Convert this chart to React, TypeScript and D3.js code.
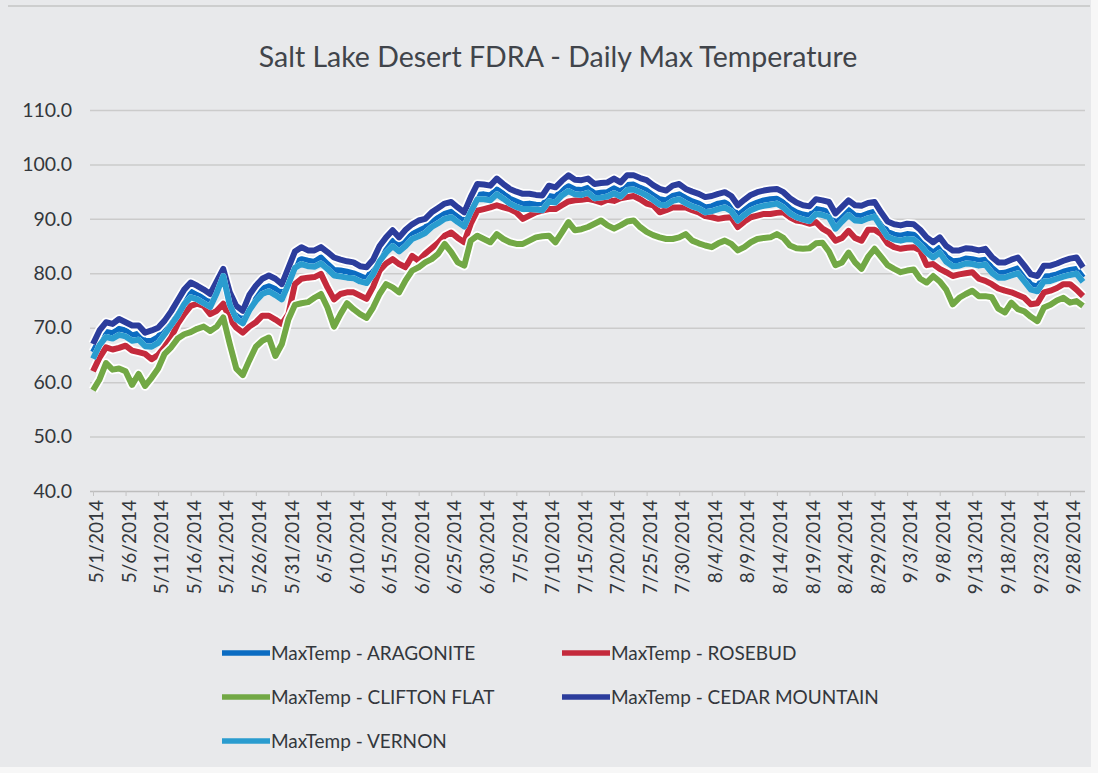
import { useRef, useEffect } from 'react';
import * as d3 from 'd3';

// daily max temperature, 5/1/2014 .. 9/30/2014 (153 days)
const aragonite = [
  65.5, 67.8, 69.2, 69.0, 69.8, 69.5, 68.6, 68.9, 67.5, 67.6,
  68.3, 69.8, 71.5, 73.2, 75.4, 76.6, 76.0, 75.6, 74.8, 77.2,
  80.0, 75.0, 72.4, 71.8, 74.2, 75.9, 77.2, 77.6, 77.1, 76.2,
  79.2, 82.0, 82.6, 82.3, 82.1, 82.9, 81.7, 80.6, 80.5, 80.3,
  80.0, 79.5, 79.0, 80.8, 83.2, 84.8, 86.0, 84.9, 86.1, 87.2,
  87.8, 88.4, 89.4, 90.2, 90.9, 91.3, 90.4, 89.5, 92.2, 94.4,
  94.5, 94.3, 95.4, 94.6, 93.7, 93.2, 92.7, 92.8, 92.6, 92.5,
  94.2, 94.0, 95.2, 96.0, 95.4, 95.3, 95.7, 94.6, 94.8, 94.9,
  95.6, 95.0, 96.2, 96.3, 95.7, 95.2, 94.3, 93.6, 93.4, 94.2,
  94.5, 93.8, 93.2, 92.8, 92.1, 92.3, 92.8, 93.0, 92.3, 90.6,
  91.6, 92.5, 93.0, 93.4, 93.6, 93.7, 93.0, 91.9, 91.2, 90.8,
  90.6, 91.8, 91.6, 91.2, 89.0, 90.4, 91.6, 90.6, 90.5, 91.0,
  91.3, 89.4, 87.6, 87.1, 86.9, 87.2, 87.1, 86.1, 84.7, 83.8,
  84.7, 83.0, 82.2, 82.3, 82.7, 82.6, 82.3, 82.5, 81.0, 80.0,
  80.1, 80.5, 80.9, 79.4, 77.9, 77.5, 79.4, 79.5, 79.8, 80.3,
  80.6, 80.8, 79.2,
];
const rosebud = [
  62.0, 64.5, 66.4, 66.0, 66.3, 66.7, 65.8, 65.5, 65.2, 64.2,
  65.0, 66.5, 68.2, 70.7, 72.5, 74.0, 74.4, 74.0, 72.5, 73.1,
  74.4, 71.6, 70.0, 69.1, 70.2, 71.0, 72.2, 72.2, 71.5, 70.7,
  72.5, 78.0, 79.0, 79.2, 79.3, 79.9, 77.4, 75.2, 76.2, 76.5,
  76.5, 75.9, 75.3, 77.5, 80.5, 81.8, 82.6, 81.7, 81.1, 83.2,
  82.3, 83.6, 84.6, 85.6, 86.9, 87.5, 86.5, 85.7, 89.1, 91.5,
  91.8, 92.1, 92.5, 92.1, 91.8, 91.2, 90.0, 90.6, 91.2, 91.5,
  91.8, 91.8, 92.5, 93.2, 93.4, 93.5, 93.7, 93.4, 93.0, 93.5,
  93.3, 93.8, 94.0, 94.2, 93.6, 92.8, 92.5, 91.2, 91.6, 92.1,
  92.1, 92.1, 91.6, 91.2, 90.5, 90.3, 90.0, 90.2, 90.3, 88.5,
  89.5, 90.3, 90.6, 90.9, 90.9, 91.1, 91.2, 90.3, 89.7, 89.5,
  89.1, 89.4, 88.2, 87.5, 86.0, 86.5, 87.8, 86.5, 86.0, 88.0,
  88.0, 87.2, 85.5, 84.8, 84.5, 84.7, 84.8, 84.2, 81.5, 81.7,
  80.8, 80.2, 79.5, 79.8, 80.0, 80.2, 79.0, 78.6, 78.0, 77.2,
  76.8, 76.5, 76.0, 75.5, 74.3, 74.5, 76.5, 76.8, 77.3, 78.0,
  78.0, 77.0, 75.8,
];
const cliftonFlat = [
  58.5, 60.5, 63.5, 62.3, 62.5, 62.0, 59.5, 61.5, 59.3, 60.8,
  62.5, 65.2, 66.4, 68.0, 68.8, 69.2, 69.8, 70.2, 69.4, 70.2,
  71.9, 67.0, 62.5, 61.3, 64.0, 66.5, 67.6, 68.2, 64.8, 67.0,
  71.5, 74.2, 74.5, 74.7, 75.5, 76.2, 73.7, 70.2, 72.5, 74.5,
  73.4, 72.5, 71.8, 73.7, 76.2, 78.0, 77.4, 76.5, 78.7, 80.5,
  81.1, 82.0, 82.6, 83.6, 85.4, 83.9, 82.0, 81.4, 86.0, 86.9,
  86.3, 85.7, 87.2, 86.3, 85.7, 85.4, 85.4, 86.0, 86.6, 86.8,
  86.9, 85.7, 87.5, 89.4, 87.9, 88.1, 88.5, 89.1, 89.7, 88.8,
  88.2, 88.8, 89.5, 89.7, 88.5, 87.6, 87.0, 86.6, 86.3, 86.3,
  86.6, 87.2, 86.0, 85.5, 85.1, 84.8, 85.5, 86.0, 85.4, 84.2,
  84.8, 85.7, 86.3, 86.5, 86.6, 87.2, 86.5, 85.1, 84.6, 84.5,
  84.6, 85.5, 85.6, 84.0, 81.5, 82.0, 83.8, 82.0, 80.8, 83.0,
  84.5, 83.0, 81.5, 80.8, 80.2, 80.5, 80.7, 79.0, 78.3, 79.5,
  78.5, 77.0, 74.3, 75.5, 76.2, 76.8, 75.8, 75.8, 75.6, 73.5,
  72.8, 74.6, 73.4, 73.0, 72.0, 71.2, 73.7, 74.2, 75.0, 75.5,
  74.6, 74.9, 74.0,
];
const cedarMountain = [
  67.0, 69.5, 71.0, 70.7, 71.6, 71.0, 70.4, 70.4, 69.1, 69.5,
  70.0, 71.3, 73.0, 75.0, 77.0, 78.3, 77.7, 77.0, 76.2, 78.5,
  80.8, 76.5, 74.0, 73.1, 76.0, 77.7, 79.0, 79.6, 79.0, 78.0,
  81.0, 84.0, 84.8, 84.2, 84.2, 84.8, 83.9, 82.9, 82.5, 82.2,
  82.0, 81.3, 81.1, 82.5, 85.0, 86.6, 87.9, 86.6, 88.0, 89.0,
  89.7, 90.0, 91.2, 92.0, 92.8, 93.1, 92.1, 91.2, 94.0, 96.4,
  96.3, 96.1, 97.4, 96.4, 95.5, 95.0, 94.6, 94.6, 94.4, 94.3,
  96.1, 95.8, 97.0, 98.0, 97.2, 97.1, 97.4, 96.4, 96.6, 96.7,
  97.4, 96.7, 98.0, 98.0, 97.5, 97.1, 96.2, 95.5, 95.2, 96.1,
  96.4, 95.5, 95.0, 94.6, 94.0, 94.2, 94.6, 94.9, 94.2, 92.5,
  93.5, 94.4, 94.9, 95.2, 95.4, 95.5, 94.9, 93.8, 93.0, 92.5,
  92.3, 93.6, 93.4, 93.1, 91.0, 92.2, 93.4, 92.5, 92.4, 92.9,
  93.1, 91.2, 89.5, 89.0, 88.8, 89.1, 89.0, 88.0, 86.6, 85.7,
  86.6, 85.0, 84.2, 84.2, 84.6, 84.5, 84.2, 84.5, 83.0, 82.0,
  82.0, 82.5, 82.9, 81.4, 79.8, 79.5, 81.4, 81.4, 81.8, 82.3,
  82.7, 82.9, 81.1,
];
const vernon = [
  64.3, 66.8, 68.3, 68.0, 68.7, 68.4, 67.6, 67.8, 66.6, 66.5,
  67.2, 68.8, 70.5, 72.2, 74.3, 75.6, 75.2, 74.5, 73.8, 76.4,
  79.5, 74.2, 71.6, 70.8, 73.2, 74.9, 76.2, 76.7, 76.0, 75.2,
  78.0, 81.0, 81.7, 81.3, 81.2, 81.8, 80.8, 79.6, 79.4, 79.2,
  79.1, 78.5, 78.2, 79.8, 82.2, 83.8, 85.0, 84.0, 85.0, 86.3,
  86.8, 87.4, 88.5, 89.2, 90.0, 90.3, 89.4, 88.6, 91.3, 93.6,
  93.6, 93.4, 94.5, 93.7, 92.8, 92.2, 91.8, 91.8, 91.7, 91.6,
  93.2, 93.0, 94.3, 95.1, 94.5, 94.4, 94.8, 93.8, 93.9, 94.1,
  94.7, 94.1, 95.3, 95.4, 94.9, 94.3, 93.5, 92.6, 92.5, 93.3,
  93.6, 92.9, 92.3, 91.9, 91.2, 91.4, 91.8, 92.1, 91.4, 89.7,
  90.7, 91.6, 92.1, 92.4, 92.6, 92.8, 92.1, 91.0, 90.3, 89.9,
  89.6, 90.9, 90.7, 90.3, 88.2, 89.5, 90.7, 89.7, 89.6, 90.1,
  90.4, 88.5, 86.7, 86.2, 86.0, 86.3, 86.2, 85.2, 83.8, 82.9,
  83.8, 82.1, 81.3, 81.4, 81.8, 81.7, 81.4, 81.6, 80.1, 79.2,
  79.2, 79.6, 80.0, 78.5, 77.0, 76.7, 78.5, 78.6, 79.0, 79.4,
  79.7, 79.9, 78.4,
];

const seriesNames = [
  'MaxTemp - ARAGONITE',
  'MaxTemp - ROSEBUD',
  'MaxTemp - CLIFTON FLAT',
  'MaxTemp - CEDAR MOUNTAIN',
  'MaxTemp - VERNON',
];
const yTicks = [40, 50, 60, 70, 80, 90, 100, 110];
const chartTitle = 'Salt Lake Desert FDRA - Daily Max Temperature';

const App = () => {
  const svgRef = useRef(null);

  useEffect(() => {
    const w = 1098;
    const h = 773;
    const font = 'Lato, "Open Sans", sans-serif';
    const textColor = '#33373c';
    const svg = d3.select(svgRef.current);
    svg.selectAll('*').remove();

    const values = [aragonite, rosebud, cliftonFlat, cedarMountain, vernon];
    const colors = ['#0b6cc2', '#c42a3c', '#72a845', '#2c3d9c', '#2a9ccf'];
    // vernon sits right on aragonite in the scan, no white edge between them
    const halo = [9.5, 9.5, 9.5, 9.5, 6];

    const start = new Date(Date.UTC(2014, 4, 1));
    const dates = aragonite.map((_, i) => d3.utcDay.offset(start, i));

    //scales
    const x = d3.scaleUtc()
      .domain([dates[0], dates[dates.length - 1]])
      .range([93, 1083]);
    const y = d3.scaleLinear()
      .domain([40, 110])
      .range([491, 110]);

    //background
    svg.append('rect')
      .attr('width', w).attr('height', h)
      .attr('fill', '#e8e9eb');
    svg.append('rect')
      .attr('x', 1091).attr('width', 7).attr('height', h)
      .attr('fill', '#f7f7f7');
    svg.append('rect')
      .attr('y', 767).attr('width', w).attr('height', 6)
      .attr('fill', '#f7f7f7');
    svg.append('line')
      .attr('x1', 8).attr('x2', 1090).attr('y1', 6).attr('y2', 6)
      .attr('stroke', '#c4c4c4').attr('stroke-width', 1.5);

    //title
    svg.append('text')
      .attr('x', 558).attr('y', 67)
      .attr('text-anchor', 'middle')
      .style('font-family', font)
      .style('font-size', '28.5px')
      .attr('fill', '#40444a')
      .text(chartTitle);

    //y axis + gridlines
    const yAxis = d3.axisLeft(y)
      .tickValues(yTicks)
      .tickFormat(d3.format('.1f'))
      .tickSize(-995)
      .tickPadding(18);
    const gy = svg.append('g')
      .attr('transform', 'translate(90,0)')
      .call(yAxis);
    gy.select('.domain').remove();
    gy.selectAll('line')
      .attr('stroke', (d) => (d === 40 ? '#bdbdbd' : '#cbcbcb'))
      .attr('stroke-width', 1.5);
    gy.selectAll('text')
      .style('font-family', font)
      .style('font-size', '19.5px')
      .attr('fill', textColor);

    //x axis
    const xTicks = dates.filter((_, i) => i % 5 === 0);
    const xAxis = d3.axisBottom(x)
      .tickValues(xTicks)
      .tickFormat((d) => `${d.getUTCMonth() + 1}/${d.getUTCDate()}/2014`)
      .tickSize(5);
    const gx = svg.append('g')
      .attr('transform', 'translate(0,491)')
      .call(xAxis);
    gx.select('.domain').remove();
    gx.selectAll('line').attr('stroke', '#c4c4c4');
    gx.selectAll('text')
      .attr('transform', 'rotate(-90)')
      .attr('x', -9)
      .attr('y', 3)
      .attr('dy', '0.35em')
      .attr('text-anchor', 'end')
      .style('font-family', font)
      .style('font-size', '19px')
      .attr('fill', textColor);

    //lines
    const line = d3.line()
      .x((d, i) => x(dates[i]))
      .y((d) => y(d));
    values.forEach((vals, k) => {
      svg.append('path')
        .datum(vals)
        .attr('d', line)
        .attr('fill', 'none')
        .attr('stroke', '#ffffff')
        .attr('stroke-width', halo[k])
        .attr('stroke-linejoin', 'round');
      svg.append('path')
        .datum(vals)
        .attr('d', line)
        .attr('fill', 'none')
        .attr('stroke', colors[k])
        .attr('stroke-width', 6)
        .attr('stroke-linejoin', 'round');
    });

    //legend
    const legendPos = [
      [222, 653], [562, 653],
      [222, 697], [562, 697],
      [222, 741],
    ];
    seriesNames.forEach((name, k) => {
      const [lx, ly] = legendPos[k];
      const g = svg.append('g').attr('transform', `translate(${lx},${ly})`);
      g.append('line')
        .attr('x1', 0).attr('x2', 48)
        .attr('stroke', colors[k])
        .attr('stroke-width', 5.5);
      g.append('text')
        .attr('x', 49)
        .attr('dy', '0.35em')
        .style('font-family', font)
        .style('font-size', '19px')
        .attr('fill', textColor)
        .text(name);
    });
  }, []);

  return (
    <svg
      ref={svgRef}
      width={1098}
      height={773}
      style={{ position: 'absolute', left: 0, top: 0 }}
    ></svg>
  );
};

export default App;
